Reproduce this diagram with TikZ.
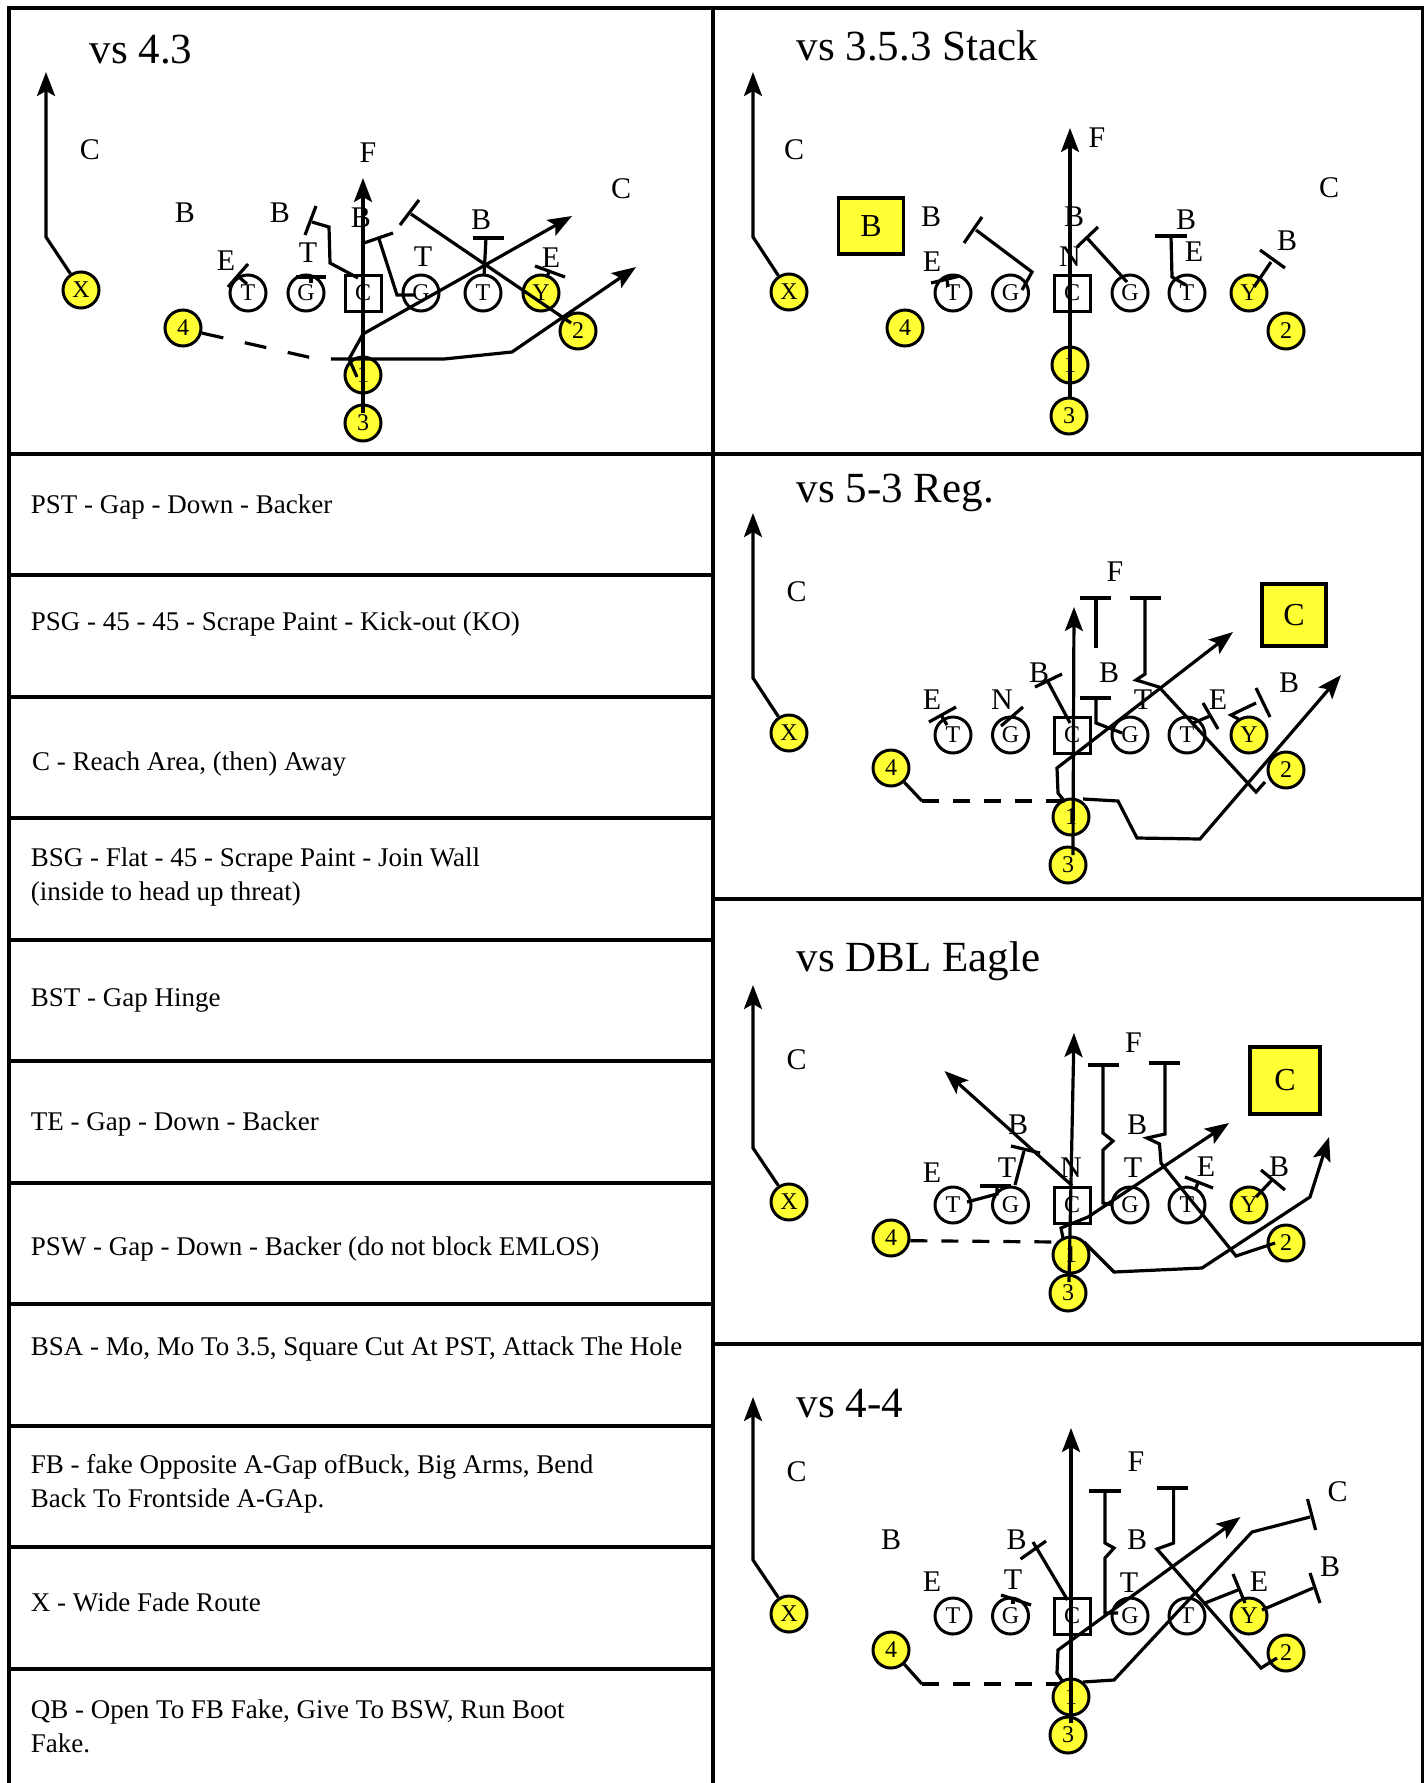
\documentclass[tikz,border=0pt]{standalone}
\usepackage{fontspec}
\setmainfont{Liberation Serif}
\usetikzlibrary{arrows.meta}
\definecolor{yel}{RGB}{255,255,51}
\begin{document}
\begin{tikzpicture}[x=1pt,y=-1pt,
  pl/.style={circle,draw,line width=3pt,minimum size=36pt,inner sep=0pt,font=\fontsize{24}{24}\selectfont},
  off/.style={pl,fill=yel},
  ctr/.style={rectangle,draw,line width=3pt,minimum size=36pt,inner sep=0pt,font=\fontsize{24}{24}\selectfont},
  df/.style={inner sep=0pt,font=\fontsize{30}{30}\selectfont},
  ttl/.style={inner sep=0pt,anchor=base west,font=\fontsize{43}{43}\selectfont},
  row/.style={inner sep=0pt,anchor=base west,font=\fontsize{27}{27}\selectfont},
  ybox/.style={draw,line width=3.8pt,fill=yel,inner sep=0pt,font=\fontsize{32}{32}\selectfont},
  rt/.style={line width=3.2pt,-{Stealth[length=24pt,width=18pt,inset=5pt]}},
  ln/.style={line width=3.2pt},
  dshA/.style={line width=3.2pt,dash pattern=on 22pt off 22pt},
  dsh/.style={line width=3.2pt,dash pattern=on 17pt off 14pt},
  frame/.style={line width=4pt}
]
\useasboundingbox (0,0) rectangle (1424,1783);
\fill[white] (0,0) rectangle (1424,1783);

% ---------- frame ----------
\draw[frame] (8.5,1783) -- (8.5,7.7) -- (1422.5,7.7) -- (1422.5,1783);
\draw[frame] (713,7.7) -- (713,1783);
\foreach \yy in {453.5,575,696.5,818,939.5,1061,1182.5,1304,1425.5,1547,1668.5}
  \draw[frame] (8.5,\yy) -- (713,\yy);
\foreach \yy in {453.5,898.5,1344}
  \draw[frame] (713,\yy) -- (1422.5,\yy);

% ---------- table text ----------
\node[row] (r1) at (30.7,513) {PST - Gap - Down - Backer};
\node[row] (r2) at (30.7,630) {PSG - 45 - 45 - Scrape Paint - Kick-out (KO)};
\node[row] (r3) at (32,770) {C - Reach Area, (then) Away};
\node[row] (r4a) at (30.7,866) {BSG - Flat - 45 - Scrape Paint - Join Wall};
\node[row] (r4b) at (30.7,900) {(inside to head up threat)};
\node[row] (r5) at (30.7,1006.5) {BST - Gap Hinge};
\node[row] (r6) at (30.7,1130.6) {TE - Gap - Down - Backer};
\node[row] (r7) at (30.7,1255) {PSW - Gap - Down - Backer (do not block EMLOS)};
\node[row] (r8) at (30.7,1355) {BSA - Mo, Mo To 3.5, Square Cut At PST, Attack The Hole};
\node[row] (r9a) at (30.7,1473.5) {FB - fake Opposite A-Gap ofBuck, Big Arms, Bend};
\node[row] (r9b) at (30.7,1507.5) {Back To Frontside A-GAp.};
\node[row] (r10) at (30.7,1611.5) {X - Wide Fade Route};
\node[row] (r11a) at (30.7,1718) {QB - Open To FB Fake, Give To BSW, Run Boot};
\node[row] (r11b) at (30.7,1752) {Fake.};

% ================= Panel 1: vs 4.3 =================
\node[ttl] (t1) at (89.5,63) {vs 4.3};
\node[off] (p1X) at (81,290) {X};
\node[pl] (p1T1) at (248,293) {T};
\node[pl] (p1G1) at (306,293) {G};
\node[ctr] (p1C) at (363,293) {C};
\node[pl] (p1G2) at (421,293) {G};
\node[pl] (p1T2) at (483,293) {T};
\node[off] (p1Y) at (541,293) {Y};
\node[off] (p1n4) at (183,328) {4};
\node[off] (p1n2) at (578,331) {2};
\node[off] (p1n1) at (363,375) {1};
\node[off] (p1n3) at (363,423) {3};
\node[df] (p1c1) at (90,150) {C};
\node[df] (p1f) at (368,153) {F};
\node[df] (p1c2) at (621,189) {C};
\node[df] (p1b1) at (185,213) {B};
\node[df] (p1b2) at (280,213) {B};
\node[df] (p1b3) at (361,218) {B};
\node[df] (p1b4) at (481,220) {B};
\node[df] (p1e1) at (226,261) {E};
\node[df] (p1t1) at (308,253) {T};
\node[df] (p1t2) at (423,257) {T};
\node[df] (p1e2) at (551,258) {E};
\draw[rt] (p1X.123) -- (46,237) -- (46,72);
\draw[dshA] (p1n4.-15) -- (317,359) -- (342,359);
\draw[rt] (342,359) -- (444,359) -- (512,352) -- (636,267);
\draw[rt] (357,377) -- (349,359) -- (363,334) -- (572,216);
\draw[rt] (363,413) -- (363,178);
\draw[ln] (571,323) -- (411,214);
\draw[ln] (400,225) -- (419,200);
\draw[ln] (484,276) -- (486,238);
\draw[ln] (473,238) -- (504,238);
\draw[ln] (415,295) -- (397,295) -- (379,239);
\draw[ln] (364,243) -- (393,233);
\draw[ln] (358,278) -- (330,263) -- (329,227) -- (312,222);
\draw[ln] (305,235) -- (316,206);
\draw[ln] (228,287) -- (248,264);
\draw[ln] (239,277) -- (247,284);
\draw[ln] (296,277) -- (326,277);
\draw[ln] (311,277) -- (311,283);
\draw[ln] (535,266) -- (565,277);
\draw[ln] (549,271) -- (547,278);

% ================= Panel 2: vs 3.5.3 Stack =================
\node[ttl] (t2) at (796.5,60) {vs 3.5.3 Stack};
\node[off] (p2X) at (789,292) {X};
\node[pl] (p2T1) at (953,293) {T};
\node[pl] (p2G1) at (1010.5,293) {G};
\node[ctr] (p2C) at (1072,293) {C};
\node[pl] (p2G2) at (1130,293) {G};
\node[pl] (p2T2) at (1187,293) {T};
\node[off] (p2Y) at (1249,293) {Y};
\node[off] (p2n4) at (905,328) {4};
\node[off] (p2n2) at (1286,331) {2};
\node[off] (p2n1) at (1070,365) {1};
\node[off] (p2n3) at (1069,416) {3};
\node[ybox,minimum width=65pt,minimum height=56pt] (p2bx) at (871,226) {B};
\node[df] (p2c1) at (794,150) {C};
\node[df] (p2f) at (1097,138) {F};
\node[df] (p2c2) at (1329,188) {C};
\node[df] (p2b1) at (931,217) {B};
\node[df] (p2b2) at (1074,217) {B};
\node[df] (p2b3) at (1186,220) {B};
\node[df] (p2b4) at (1287,241) {B};
\node[df] (p2e1) at (932,262) {E};
\node[df] (p2nn) at (1070,257) {N};
\node[df] (p2e2) at (1194,252) {E};
\draw[rt] (p2X.123) -- (753,237) -- (753,72);
\draw[rt] (1070,398) -- (1070,128);
\draw[ln] (1022,290) -- (1032,272) -- (976,230);
\draw[ln] (964,243) -- (982,217);
\draw[ln] (1127,282) -- (1087,238);
\draw[ln] (1077,247) -- (1098,227);
\draw[ln] (1186,285) -- (1172,277) -- (1171,236);
\draw[ln] (1155,236) -- (1187,236);
\draw[ln] (1254,287) -- (1271,262);
\draw[ln] (1260,250) -- (1285,268);
\draw[ln] (931,283) -- (960,276);
\draw[ln] (947,280) -- (948,287);

% ================= Panel 3: vs 5-3 Reg. =================
\node[ttl] (t3) at (796.5,502) {vs 5-3 Reg.};
\node[off] (p3X) at (789,733) {X};
\node[pl] (p3T1) at (953,735) {T};
\node[pl] (p3G1) at (1010.5,735) {G};
\node[ctr] (p3C) at (1072,735) {C};
\node[pl] (p3G2) at (1130,735) {G};
\node[pl] (p3T2) at (1187,735) {T};
\node[off] (p3Y) at (1249,735) {Y};
\node[off] (p3n4) at (891,768) {4};
\node[off] (p3n2) at (1286,770) {2};
\node[off] (p3n1) at (1071,817) {1};
\node[off] (p3n3) at (1068,865) {3};
\node[ybox,minimum width=64pt,minimum height=62pt] (p3bx) at (1294,615) {C};
\node[df] (p3c1) at (796.5,592) {C};
\node[df] (p3f) at (1115,572) {F};
\node[df] (p3b1) at (1039,673) {B};
\node[df] (p3b2) at (1109,673) {B};
\node[df] (p3b3) at (1289,683) {B};
\node[df] (p3e1) at (932,700) {E};
\node[df] (p3nn) at (1002,700) {N};
\node[df] (p3t) at (1143,700) {T};
\node[df] (p3e2) at (1218,700) {E};
\draw[rt] (p3X.123) -- (753,678) -- (753,513);
\draw[rt] (1073,855) -- (1074,607);
\draw[rt] (1065,802) -- (1058,793) -- (1057,768) -- (1233,632);
\draw[ln] (p3n4.-47) -- (922,801);
\draw[dsh] (922,801) -- (1061,801);
\draw[rt] (1083,799) -- (1118,801) -- (1137,838) -- (1200,839) -- (1341,675);
\draw[ln] (1265,782) -- (1256,792) -- (1159,687) -- (1136,680) -- (1145,674) -- (1145,598);
\draw[ln] (1130,598) -- (1161,598);
\draw[ln] (1080,598) -- (1111,598);
\draw[ln] (1096,598) -- (1096,648);
\draw[ln] (1080,698) -- (1111,698);
\draw[ln] (1096,698) -- (1096,723) -- (1122,733);
\draw[ln] (1070,723) -- (1047,680);
\draw[ln] (1035,687) -- (1062,674);
\draw[ln] (929,722) -- (956,707);
\draw[ln] (941,715) -- (947,725);
\draw[ln] (1001,726) -- (1023,707);
\draw[ln] (1193,723) -- (1210,716);
\draw[ln] (1203,703) -- (1218,729);
\draw[ln] (1240,720) -- (1231,715) -- (1256,703);
\draw[ln] (1256,688) -- (1270,717);

% ================= Panel 4: vs DBL Eagle =================
\node[ttl] (t4) at (796.5,971) {vs DBL Eagle};
\node[off] (p4X) at (789,1202) {X};
\node[pl] (p4T1) at (953,1205) {T};
\node[pl] (p4G1) at (1010.5,1205) {G};
\node[ctr] (p4C) at (1072,1205) {C};
\node[pl] (p4G2) at (1130,1205) {G};
\node[pl] (p4T2) at (1187,1205) {T};
\node[off] (p4Y) at (1249,1205) {Y};
\node[off] (p4n4) at (891,1238) {4};
\node[off] (p4n2) at (1286,1243) {2};
\node[off] (p4n1) at (1071,1255) {1};
\node[off] (p4n3) at (1068,1293) {3};
\node[ybox,minimum width=70pt,minimum height=67pt] (p4bx) at (1285,1080.5) {C};
\node[df] (p4c1) at (796.5,1060) {C};
\node[df] (p4f) at (1133.5,1043) {F};
\node[df] (p4b1) at (1018,1125) {B};
\node[df] (p4b2) at (1137,1125) {B};
\node[df] (p4e1) at (932,1173) {E};
\node[df] (p4t1) at (1007,1168) {T};
\node[df] (p4nn) at (1071,1168) {N};
\node[df] (p4t2) at (1133,1168) {T};
\node[df] (p4e2) at (1206,1167) {E};
\node[df] (p4b3) at (1279,1167) {B};
\draw[rt] (p4X.123) -- (753,1148) -- (753,985);
\draw[rt] (1069,1282) -- (1074,1033);
\draw[rt] (p4C.north) -- (944.5,1071);
\draw[rt] (1063,1238) -- (1061,1228) -- (1088,1217) -- (1229,1123);
\draw[dsh] (p4n4.-8) -- (1058,1242);
\draw[rt] (1084,1242) -- (1114,1272) -- (1202,1268) -- (1310,1197) -- (1329,1137);
\draw[ln] (1275,1243) -- (1236,1256) -- (1161,1163) -- (1159.5,1144) -- (1147,1138) -- (1165,1134) -- (1165,1063);
\draw[ln] (1149,1063) -- (1180,1063);
\draw[ln] (1088,1065) -- (1119,1065);
\draw[ln] (1103,1065) -- (1103,1133) -- (1113,1141) -- (1103,1150) -- (1103,1203) -- (1113,1205);
\draw[ln] (967,1202) -- (997,1194) -- (997,1186);
\draw[ln] (980,1186) -- (1011,1186);
\draw[ln] (1015,1185) -- (1024,1151);
\draw[ln] (1011,1146) -- (1040,1153);
\draw[ln] (1185,1177) -- (1213,1188);
\draw[ln] (1198,1183) -- (1195,1190);
\draw[ln] (1256,1197) -- (1272,1180);
\draw[ln] (1261,1170) -- (1285,1190);

% ================= Panel 5: vs 4-4 =================
\node[ttl] (t5) at (796.5,1417) {vs 4-4};
\node[off] (p5X) at (789,1614) {X};
\node[pl] (p5T1) at (953,1616) {T};
\node[pl] (p5G1) at (1010.5,1616) {G};
\node[ctr] (p5C) at (1072,1616) {C};
\node[pl] (p5G2) at (1130,1616) {G};
\node[pl] (p5T2) at (1187,1616) {T};
\node[off] (p5Y) at (1249,1616) {Y};
\node[off] (p5n4) at (891,1650) {4};
\node[off] (p5n2) at (1286,1653) {2};
\node[off] (p5n1) at (1071,1697) {1};
\node[off] (p5n3) at (1068,1735) {3};
\node[df] (p5c1) at (796.5,1472) {C};
\node[df] (p5f) at (1136,1462) {F};
\node[df] (p5c2) at (1337.5,1492) {C};
\node[df] (p5b1) at (891,1540) {B};
\node[df] (p5b2) at (1016.5,1540) {B};
\node[df] (p5b3) at (1137,1540) {B};
\node[df] (p5b4) at (1330,1567) {B};
\node[df] (p5e1) at (932,1582) {E};
\node[df] (p5t1) at (1013,1580) {T};
\node[df] (p5t2) at (1129,1583) {T};
\node[df] (p5e2) at (1259,1582) {E};
\draw[rt] (p5X.123) -- (753,1560) -- (753,1397);
\draw[rt] (1071,1723) -- (1071,1428);
\draw[rt] (1063,1682) -- (1057,1673) -- (1058,1650) -- (1240.5,1517);
\draw[ln] (p5n4.-47) -- (922,1684);
\draw[dsh] (922,1684) -- (1058,1684);
\draw[ln] (1083,1682) -- (1114,1680) -- (1252,1532) -- (1310,1517);
\draw[ln] (1307.5,1499) -- (1315.6,1530);
\draw[ln] (1277,1658) -- (1261,1668) -- (1157,1549) -- (1173.6,1543) -- (1173.6,1488);
\draw[ln] (1157,1488) -- (1188,1488);
\draw[ln] (1089,1491) -- (1121,1491);
\draw[ln] (1105,1491) -- (1105,1543) -- (1114,1548) -- (1105,1558) -- (1105,1613) -- (1118,1613);
\draw[ln] (1067.5,1600) -- (1033,1542);
\draw[ln] (1020.6,1559) -- (1046,1541);
\draw[ln] (1001,1595) -- (1031,1605);
\draw[ln] (1013,1599) -- (1013,1604);
\draw[ln] (1205,1603) -- (1238,1590);
\draw[ln] (1233,1574) -- (1245,1603);
\draw[ln] (1262,1610) -- (1313,1588);
\draw[ln] (1310,1573) -- (1320,1603);
\end{tikzpicture}
\end{document}
